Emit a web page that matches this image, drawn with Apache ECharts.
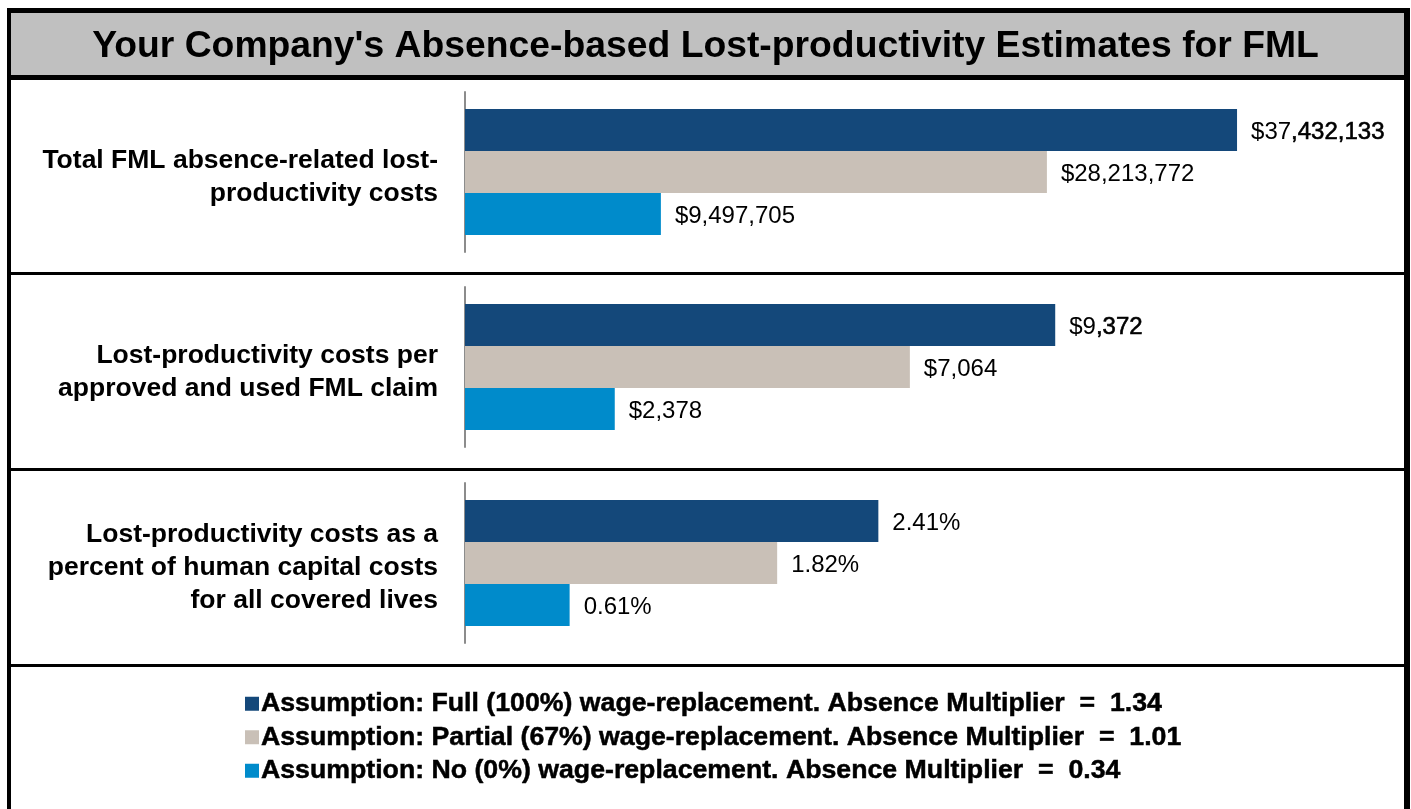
<!DOCTYPE html>
<html>
<head>
<meta charset="utf-8">
<script src="https://cdn.jsdelivr.net/npm/echarts@6/dist/echarts.min.js"></script>
<style>
html,body{margin:0;padding:0;background:#fff;}
#chart{width:1411px;height:809px;}
</style>
</head>
<body>
<div id="chart"></div>
<script>
// ---- data ----
const titleText = "Your Company's Absence-based Lost-productivity Estimates for FML";
const categories = [
  "Total FML absence-related lost-\nproductivity costs",
  "Lost-productivity costs per\napproved and used FML claim",
  "Lost-productivity costs as a\npercent of human capital costs\nfor all covered lives"
];
const seriesNames = [
  "Assumption: Full (100%) wage-replacement. Absence Multiplier  =  1.34",
  "Assumption: Partial (67%) wage-replacement. Absence Multiplier  =  1.01",
  "Assumption: No (0%) wage-replacement. Absence Multiplier  =  0.34"
];
const fullValues    = [37432133, 9372, 2.41];
const partialValues = [28213772, 7064, 1.82];
const noValues      = [9497705, 2378, 0.61];
const axisMax = [40000000, 13100, 4.81];

const colors = ['#14487A', '#C9C0B7', '#008BCB'];
const valuesBySeries = [fullValues, partialValues, noValues];
const FONT = '"Liberation Sans", Arial, sans-serif';

function fmt(panel, v) {
  if (panel === 2) return v.toFixed(2) + '%';
  return '$' + Math.round(v).toLocaleString('en-US');
}

const gridTops = [92, 287, 483];
const grids = [], xAxes = [], yAxes = [], series = [];
for (let p = 0; p < 3; p++) {
  grids.push({left: 465, top: gridTops[p], width: 825, height: 160, containLabel: false});
  xAxes.push({type: 'value', gridIndex: p, min: 0, max: axisMax[p], show: false});
  yAxes.push({
    type: 'category', gridIndex: p, inverse: true, data: [categories[p]],
    axisLine: {show: true, lineStyle: {color: '#8c8c8c', width: 2}},
    axisTick: {show: false},
    axisLabel: {
      fontFamily: FONT, fontWeight: 'bold',
      fontSize: 26.5, lineHeight: 33, color: '#000', margin: 27, align: 'right',
      formatter: function (v) {
        return '{g|}\n' + v.split('\n').map(function (l) { return '{t|' + l + '}'; }).join('\n');
      },
      rich: {
        g: {fontSize: 1, lineHeight: 10},
        t: {fontFamily: FONT, fontWeight: 'bold', fontSize: 26.5, lineHeight: 33, color: '#000', align: 'right'}
      }
    }
  });
  for (let s = 0; s < 3; s++) {
    const boldTail = (s === 0 && p < 2);
    series.push({
      type: 'bar', name: seriesNames[s], xAxisIndex: p, yAxisIndex: p,
      data: [valuesBySeries[s][p]],
      barGap: '0%', barCategoryGap: '21.25%',
      itemStyle: {color: colors[s]},
      label: {
        show: true, position: 'right', distance: 14, offset: [0, 2],
        fontFamily: FONT, fontSize: 24, color: '#000',
        formatter: function (pr) {
          const t = fmt(p, pr.value);
          if (boldTail) {
            const i = t.indexOf(',');
            return '{a|' + t.slice(0, i) + '}{b|' + t.slice(i) + '}';
          }
          return t;
        },
        rich: {
          a: {fontFamily: FONT, fontSize: 24, color: '#000'},
          b: {fontFamily: FONT, fontSize: 24, color: '#000',
              textBorderColor: '#000', textBorderWidth: 0.6}
        }
      }
    });
  }
}

const chart = echarts.init(document.getElementById('chart'), null, {renderer: 'canvas'});
chart.setOption({
  animation: false,
  backgroundColor: '#fff',
  title: {
    text: titleText, left: 'center', top: 23,
    textStyle: {fontFamily: FONT, fontWeight: 'bold', fontSize: 37.3, color: '#000'}
  },
  legend: {
    orient: 'vertical', left: 240, top: 685, itemWidth: 14, itemHeight: 14, itemGap: 6,
    icon: 'rect', data: seriesNames,
    textStyle: {fontFamily: FONT, fontWeight: 'bold', fontSize: 26.7, color: '#000',
                textBorderColor: '#000', textBorderWidth: 0.5, padding: [0, 0, 0, -3]}
  },
  graphic: [
    {type: 'rect', z: -10, shape: {x: 11, y: 13, width: 1393, height: 62}, style: {fill: '#C0C0C0'}},
    {type: 'rect', z: 100, shape: {x: 7, y: 8, width: 4, height: 810}, style: {fill: '#000'}},
    {type: 'rect', z: 100, shape: {x: 1404, y: 8, width: 6, height: 810}, style: {fill: '#000'}},
    {type: 'rect', z: 100, shape: {x: 7, y: 8, width: 1403, height: 5}, style: {fill: '#000'}},
    {type: 'rect', z: 100, shape: {x: 7, y: 75, width: 1403, height: 5}, style: {fill: '#000'}},
    {type: 'rect', z: 100, shape: {x: 7, y: 272, width: 1403, height: 3}, style: {fill: '#000'}},
    {type: 'rect', z: 100, shape: {x: 7, y: 468, width: 1403, height: 3}, style: {fill: '#000'}},
    {type: 'rect', z: 100, shape: {x: 7, y: 664, width: 1403, height: 3}, style: {fill: '#000'}}
  ],
  grid: grids, xAxis: xAxes, yAxis: yAxes, series: series
});
</script>
</body>
</html>
